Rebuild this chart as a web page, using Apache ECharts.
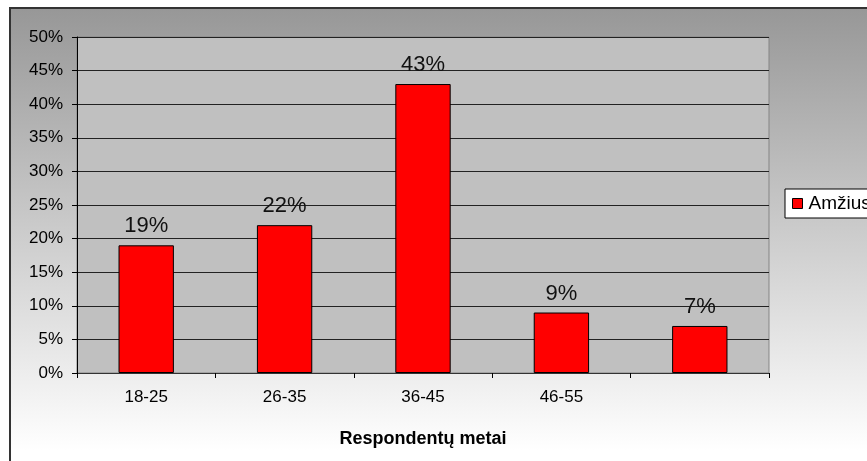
<!DOCTYPE html>
<html>
<head>
<meta charset="utf-8">
<script src="https://cdn.jsdelivr.net/npm/echarts@6/dist/echarts.min.js"></script>
<style>
  html, body { margin: 0; padding: 0; background: #fff; }
  #chart { width: 867px; height: 461px; }
</style>
</head>
<body>
<div id="chart"></div>
<script>
// duomenys
var categories = ['18-25', '26-35', '36-45', '46-55', ''];
var values = [19, 22, 43, 9, 7];
var seriesName = 'Amžius';
var axisTitle = 'Respondentų metai';

var myChart = echarts.init(document.getElementById('chart'));

var option = {
  animation: false,
  textStyle: { fontFamily: 'Liberation Sans, Arial, sans-serif' },
  graphic: [
    {
      // išorinis fonas su gradientu
      type: 'rect',
      z: -10,
      shape: { x: 10, y: 8, width: 900, height: 520 },
      style: {
        fill: new echarts.graphic.LinearGradient(0, 0, 0, 1, [
          { offset: 0, color: '#979797' },
          { offset: 0.85, color: '#ffffff' },
          { offset: 1, color: '#ffffff' }
        ]),
        stroke: '#333',
        lineWidth: 2
      }
    }
  ],
  grid: {
    left: 77, right: 98, top: 37, bottom: 88,
    show: true,
    backgroundColor: '#c0c0c0',
    borderColor: '#858585',
    borderWidth: 1
  },
  legend: {
    data: [seriesName],
    left: 785, top: 189,
    backgroundColor: '#fff',
    borderColor: '#000',
    borderWidth: 1,
    padding: [5, 12, 5, 7],
    icon: 'rect',
    itemWidth: 10, itemHeight: 10,
    itemGap: 6,
    itemStyle: { borderColor: '#000', borderWidth: 1 },
    textStyle: { fontSize: 19, color: '#000', padding: [0, 0, 0, 1] }
  },
  xAxis: {
    type: 'category',
    data: categories,
    name: axisTitle,
    nameLocation: 'middle',
    nameGap: 57,
    nameTextStyle: { fontSize: 18, fontWeight: 'bold', color: '#000' },
    axisLine: { lineStyle: { color: '#333', width: 1 } },
    axisTick: { show: true, length: 5, lineStyle: { color: '#000' } },
    axisLabel: { fontSize: 17, color: '#000', margin: 16 }
  },
  yAxis: {
    type: 'value',
    min: 0, max: 50, interval: 5,
    axisLine: { show: true, lineStyle: { color: '#000' } },
    axisTick: { show: true, length: 5, lineStyle: { color: '#000' } },
    axisLabel: { fontSize: 17, color: '#000', margin: 14, formatter: '{value}%' },
    splitLine: { lineStyle: { color: '#222', width: 1 } }
  },
  series: [
    {
      name: seriesName,
      type: 'bar',
      data: values,
      barWidth: '40%',
      itemStyle: { color: '#ff0000', borderColor: '#000', borderWidth: 1 },
      label: {
        show: true,
        position: 'top',
        distance: 8,
        fontSize: 22,
        color: '#111',
        formatter: '{c}%'
      }
    }
  ]
};

myChart.setOption(option);
</script>
</body>
</html>
